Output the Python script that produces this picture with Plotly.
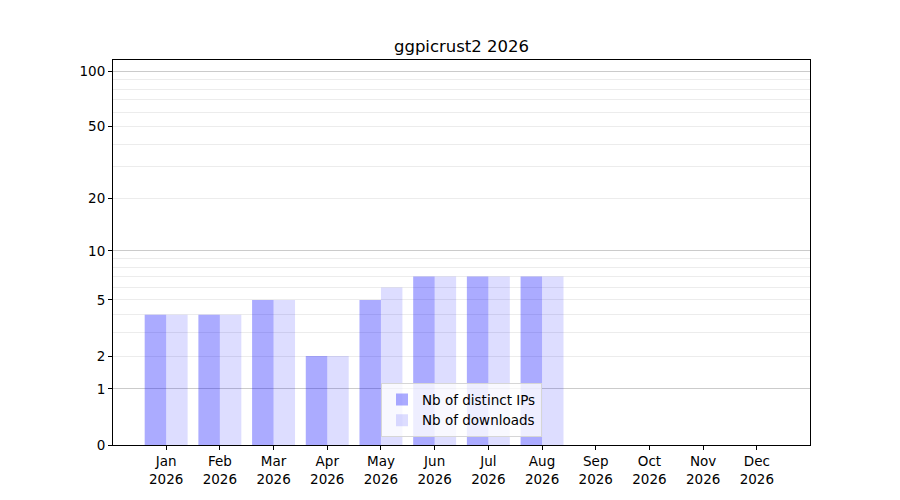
import numpy as np
import plotly.graph_objects as go

months = ['Jan', 'Feb', 'Mar', 'Apr', 'May', 'Jun', 'Jul', 'Aug', 'Sep', 'Oct', 'Nov', 'Dec']
year = 2026
distinct_ips = [4, 4, 5, 2, 5, 7, 7, 7, 0, 0, 0, 0]
downloads = [4, 4, 5, 2, 6, 7, 7, 7, 0, 0, 0, 0]

y_ticks = [0, 1, 2, 5, 10, 20, 50, 100]
y_minor = [2, 3, 4, 5, 6, 7, 8, 9, 20, 30, 40, 50, 60, 70, 80, 90]
y_decades = [1, 10, 100]
y_top = 115


def tr(v):
    # log(1 + x) scale, like the reference's y axis
    return np.log10(1 + np.asarray(v, dtype=float))


labels = [f'{m}<br>{year}' for m in months]

fig = go.Figure()
fig.add_trace(go.Bar(x=labels, y=tr(distinct_ips), name='Nb of distinct IPs',
                     marker=dict(color='rgba(0,0,255,0.33)', line_width=0),
                     customdata=distinct_ips, hovertemplate='%{customdata}'))
fig.add_trace(go.Bar(x=labels, y=tr(downloads), name='Nb of downloads',
                     marker=dict(color='rgba(0,0,255,0.135)', line_width=0),
                     customdata=downloads, hovertemplate='%{customdata}'))

font = dict(family='DejaVu Sans', size=13.5, color='black')
yrange = [0, float(tr(y_top))]

# the page body adds an 8px margin, so the figure is a bit smaller
fig.update_layout(
    width=892, height=492,
    margin=dict(l=105, r=90, t=52, b=55),
    plot_bgcolor='white', paper_bgcolor='white',
    font=font,
    barmode='group', bargap=0.2, bargroupgap=0,
    title=dict(text=f'ggpicrust2 {year}', x=0.5, xref='paper', y=1 - 38 / 492,
               yanchor='middle', font=dict(family='DejaVu Sans', size=16.5)),
    xaxis=dict(range=[-0.99, 11.99], showline=True, mirror=True, linecolor='black',
               linewidth=1, ticks='outside', ticklen=4, tickcolor='black',
               showgrid=False, zeroline=False),
    yaxis=dict(range=yrange, tickvals=tr(y_ticks), ticktext=[str(t) for t in y_ticks],
               showline=True, mirror=True, linecolor='black', linewidth=1,
               ticks='outside', ticklen=4, tickcolor='black', showgrid=False,
               zeroline=False,
               minor=dict(tickvals=tr(y_minor), showgrid=True, gridcolor='#ececec',
                          gridwidth=1, ticks='')),
    yaxis2=dict(range=yrange, overlaying='y', tickvals=tr(y_decades),
                showticklabels=False, showgrid=True, gridcolor='#cbcbcb', gridwidth=1,
                ticks='', zeroline=False, showline=False),
    legend=dict(x=0.5, xanchor='center', y=0.02, yanchor='bottom',
                bgcolor='rgba(255,255,255,0.8)', bordercolor='#d6d6d6', borderwidth=1,
                font=font),
)
# invisible trace so the overlay axis is drawn
fig.add_trace(go.Scatter(x=[labels[0]], y=[0], yaxis='y2', mode='markers',
                         marker=dict(opacity=0), showlegend=False, hoverinfo='skip'))

fig.write_html('out.html')
